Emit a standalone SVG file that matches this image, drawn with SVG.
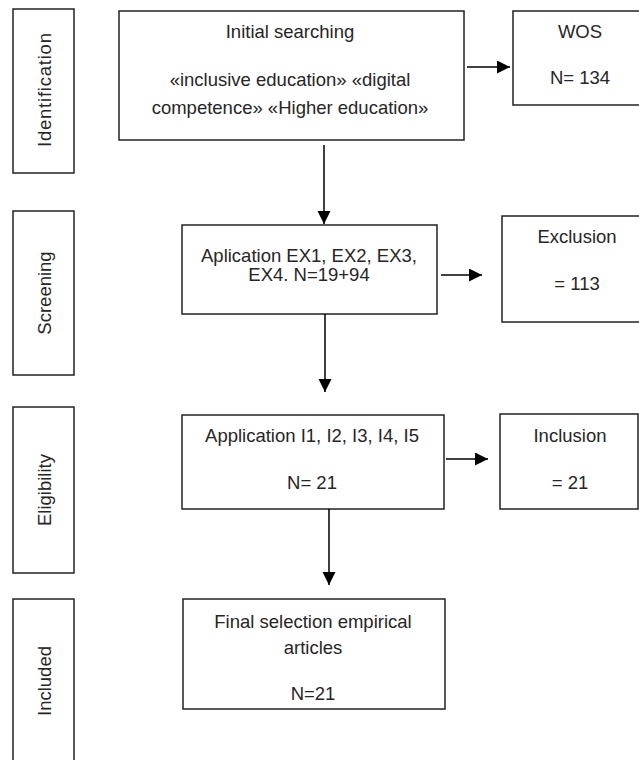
<svg xmlns="http://www.w3.org/2000/svg" width="639" height="760" viewBox="0 0 639 760">
<defs>
<style>
.box{fill:#fff;stroke:#222;stroke-width:1.5}
.t{font-family:"Liberation Sans",Arial,sans-serif;font-size:18.5px;fill:#262626;text-anchor:middle}
.c{stroke:#000;stroke-width:1.5;fill:none}
</style>
<marker id="ah" markerUnits="userSpaceOnUse" markerWidth="14" markerHeight="14" refX="13" refY="6.5" orient="auto">
<path d="M0,0 L13,6.5 L0,13 z" fill="#000"/>
</marker>
</defs>
<rect width="639" height="760" fill="#fff"/>
<g id="stage-identification">
<rect class="box" x="13" y="9" width="61" height="164"/>
<text class="t" transform="translate(51,90) rotate(-90)" textLength="114">Identification</text>
</g>
<g id="stage-screening">
<rect class="box" x="13" y="211" width="61" height="164"/>
<text class="t" transform="translate(51,293) rotate(-90)">Screening</text>
</g>
<g id="stage-eligibility">
<rect class="box" x="13" y="407" width="61" height="166"/>
<text class="t" transform="translate(51,490) rotate(-90)">Eligibility</text>
</g>
<g id="stage-included">
<rect class="box" x="13" y="599" width="61" height="180"/>
<text class="t" transform="translate(51,681) rotate(-90)">Included</text>
</g>
<g id="initial">
<rect class="box" x="119" y="11" width="345" height="129"/>
<text class="t" x="290" y="38">Initial searching</text>
<text class="t" x="290" y="86">«inclusive education» «digital</text>
<text class="t" x="290" y="114">competence» «Higher education»</text>
</g>
<g id="wos">
<rect class="box" x="513" y="11" width="140" height="94"/>
<text class="t" x="580" y="38">WOS</text>
<text class="t" x="580" y="84">N= 134</text>
</g>
<g id="aplication">
<rect class="box" x="182" y="225" width="255" height="89"/>
<text class="t" x="309" y="262">Aplication EX1, EX2, EX3,</text>
<text class="t" x="309" y="281">EX4. N=19+94</text>
</g>
<g id="exclusion">
<rect class="box" x="502" y="216" width="150" height="106"/>
<text class="t" x="577" y="243">Exclusion</text>
<text class="t" x="577" y="290">= 113</text>
</g>
<g id="application">
<rect class="box" x="182" y="415" width="262" height="94"/>
<text class="t" x="312" y="442">Application I1, I2, I3, I4, I5</text>
<text class="t" x="312" y="489">N= 21</text>
</g>
<g id="inclusion">
<rect class="box" x="500" y="414" width="138" height="95"/>
<text class="t" x="570" y="442">Inclusion</text>
<text class="t" x="570" y="489">= 21</text>
</g>
<g id="final">
<rect class="box" x="183" y="599" width="262" height="110"/>
<text class="t" x="313" y="628">Final selection empirical</text>
<text class="t" x="313" y="654">articles</text>
<text class="t" x="313" y="700">N=21</text>
</g>
<g id="connectors">
<line class="c" x1="467" y1="67" x2="510" y2="67" marker-end="url(#ah)"/>
<line class="c" x1="324" y1="145" x2="324" y2="224" marker-end="url(#ah)"/>
<line class="c" x1="441" y1="275" x2="482" y2="275" marker-end="url(#ah)"/>
<line class="c" x1="325" y1="314" x2="325" y2="392" marker-end="url(#ah)"/>
<line class="c" x1="446" y1="459" x2="488" y2="459" marker-end="url(#ah)"/>
<line class="c" x1="329" y1="509" x2="329" y2="585" marker-end="url(#ah)"/>
</g>
</svg>
